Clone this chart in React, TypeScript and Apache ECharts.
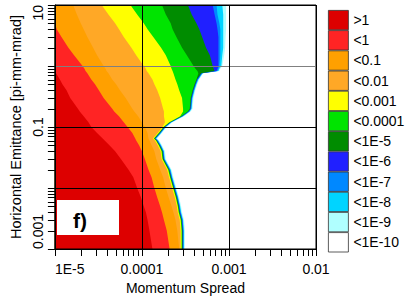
import React, { useEffect, useRef } from "react";
import * as echarts from "echarts";

// Emittance values (pi-mm-mrad) at which each contour edge is sampled
const emittanceGrid = [
  10, 7, 5, 4, 3, 2, 1.5,
  1, 0.9, 0.83, 0.76,
  0.6, 0.5, 0.4, 0.3, 0.2,
  0.18, 0.15, 0.12, 0.1,
  0.08, 0.065, 0.06, 0.05, 0.04,
  0.03, 0.02, 0.015, 0.01,
  0.007, 0.005, 0.004, 0.003, 0.002, 0.001,
];

// Momentum spread of the right-hand edge of each level, along emittanceGrid
const edgeGt1 = [
  1e-5, 1e-5, 1e-5, 1e-5, 1e-5, 1e-5, 1e-5,
  1e-5, 1e-5, 1e-5, 1.03e-5,
  1.14e-5, 1.22e-5, 1.36e-5, 1.5e-5, 1.84e-5,
  1.93e-5, 2.14e-5, 2.43e-5, 2.62e-5,
  3.05e-5, 3.54e-5, 3.73e-5, 4.23e-5, 4.92e-5,
  5.73e-5, 7.02e-5, 7.96e-5, 8.81e-5,
  9.75e-5, 1.05e-4, 1.11e-4, 1.16e-4, 1.22e-4, 1.32e-4,
];
const edgeLt1 = [
  1e-5, 1e-5, 1e-5, 1.05e-5, 1.19e-5, 1.43e-5, 1.66e-5,
  2.08e-5, 2.19e-5, 2.25e-5, 2.36e-5,
  2.62e-5, 2.89e-5, 3.2e-5, 3.63e-5, 4.56e-5,
  4.8e-5, 5.45e-5, 6.18e-5, 6.84e-5,
  7.76e-5, 8.38e-5, 8.59e-5, 9.27e-5, 1.0e-4,
  1.08e-4, 1.19e-4, 1.29e-4, 1.39e-4,
  1.5e-4, 1.62e-4, 1.7e-4, 1.79e-4, 1.93e-4, 2.08e-4,
];
const edgeLt01 = [
  1.62e-5, 1.79e-5, 1.98e-5, 2.14e-5, 2.36e-5, 2.75e-5, 3.05e-5,
  3.63e-5, 3.82e-5, 3.92e-5, 4.12e-5,
  4.56e-5, 5.05e-5, 5.59e-5, 6.5e-5, 7.76e-5,
  8.17e-5, 9.04e-5, 1.0e-4, 1.08e-4,
  1.16e-4, 1.19e-4, 1.22e-4, 1.29e-4, 1.39e-4,
  1.46e-4, 1.62e-4, 1.75e-4, 1.88e-4,
  2.03e-4, 2.19e-4, 2.3e-4, 2.43e-4, 2.55e-4, 2.68e-4,
];
const edgeLt001 = [
  3.45e-5, 4.12e-5, 4.92e-5, 5.45e-5, 6.18e-5, 7.57e-5, 8.59e-5,
  1.05e-4, 1.11e-4, 1.135e-4, 1.19e-4,
  1.32e-4, 1.39e-4, 1.5e-4, 1.62e-4, 1.75e-4,
  1.79e-4, 1.79e-4, 1.84e-4, 1.72e-4,
  1.52e-4, 1.34e-4, 1.41e-4, 1.52e-4, 1.64e-4,
  1.68e-4, 1.95e-4, 2.05e-4, 2.22e-4,
  2.39e-4, 2.52e-4, 2.58e-4, 2.72e-4, 2.78e-4, 2.78e-4,
];
const edgeLt1em3 = [
  7.38e-5, 8.81e-5, 1.05e-4, 1.16e-4, 1.35e-4, 1.66e-4, 1.88e-4,
  2.14e-4, 2.19e-4, 2.25e-4, 2.3e-4,
  2.43e-4, 2.55e-4, 2.68e-4, 2.89e-4, 2.97e-4,
  2.97e-4, 2.75e-4, 2.06e-4, 1.77e-4,
  1.56e-4, 1.37e-4, 1.45e-4, 1.56e-4, 1.68e-4,
  1.72e-4, 2.0e-4, 2.1e-4, 2.28e-4,
  2.45e-4, 2.58e-4, 2.64e-4, 2.79e-4, 2.85e-4, 2.85e-4,
];
const edgeLt1em4 = [
  1.7e-4, 1.88e-4, 2.14e-4, 2.25e-4, 2.49e-4, 2.89e-4, 3.28e-4,
  3.92e-4, 4.12e-4, 4.34e-4, 4.45e-4,
  4.23e-4, 4.02e-4, 3.82e-4, 3.63e-4, 3.54e-4,
  3.37e-4, 2.83e-4, 2.09e-4, 1.79e-4,
  1.58e-4, 1.39e-4, 1.46e-4, 1.58e-4, 1.71e-4,
  1.74e-4, 2.03e-4, 2.13e-4, 2.31e-4,
  2.48e-4, 2.61e-4, 2.68e-4, 2.83e-4, 2.89e-4, 2.89e-4,
];
const edgeLt1em5 = [
  3.37e-4, 3.73e-4, 4.23e-4, 4.56e-4, 4.92e-4, 5.45e-4, 6.03e-4,
  6.5e-4, 6.67e-4, 6.84e-4, 4.8e-4,
  4.28e-4, 4.08e-4, 3.87e-4, 3.68e-4, 3.59e-4,
  3.41e-4, 2.86e-4, 2.11e-4, 1.81e-4,
  1.6e-4, 1.41e-4, 1.48e-4, 1.6e-4, 1.73e-4,
  1.77e-4, 2.06e-4, 2.16e-4, 2.34e-4,
  2.52e-4, 2.65e-4, 2.71e-4, 2.86e-4, 2.93e-4, 2.93e-4,
];
const edgeLt1em6 = [
  6.5e-4, 6.84e-4, 7.2e-4, 7.38e-4, 7.57e-4, 7.57e-4, 7.57e-4,
  7.57e-4, 7.38e-4, 7.2e-4, 4.86e-4,
  4.34e-4, 4.13e-4, 3.92e-4, 3.73e-4, 3.63e-4,
  3.45e-4, 2.9e-4, 2.14e-4, 1.84e-4,
  1.62e-4, 1.43e-4, 1.5e-4, 1.62e-4, 1.75e-4,
  1.79e-4, 2.08e-4, 2.19e-4, 2.37e-4,
  2.55e-4, 2.68e-4, 2.75e-4, 2.9e-4, 2.97e-4, 2.97e-4,
];
const edgeLt1em7 = [
  7.2e-4, 7.38e-4, 7.76e-4, 7.96e-4, 7.96e-4, 7.96e-4, 7.96e-4,
  7.76e-4, 7.57e-4, 7.38e-4, 4.92e-4,
  4.39e-4, 4.18e-4, 3.97e-4, 3.77e-4, 3.68e-4,
  3.5e-4, 2.94e-4, 2.17e-4, 1.86e-4,
  1.64e-4, 1.44e-4, 1.52e-4, 1.64e-4, 1.77e-4,
  1.81e-4, 2.11e-4, 2.21e-4, 2.4e-4,
  2.58e-4, 2.72e-4, 2.78e-4, 2.94e-4, 3.0e-4, 3.0e-4,
];
const edgeLt1em8 = [
  8.38e-4, 8.59e-4, 8.59e-4, 8.59e-4, 8.59e-4, 8.59e-4, 8.38e-4,
  8.17e-4, 7.76e-4, 7.57e-4, 4.98e-4,
  4.45e-4, 4.23e-4, 4.02e-4, 3.82e-4, 3.72e-4,
  3.54e-4, 2.97e-4, 2.19e-4, 1.88e-4,
  1.66e-4, 1.46e-4, 1.54e-4, 1.66e-4, 1.79e-4,
  1.83e-4, 2.14e-4, 2.24e-4, 2.43e-4,
  2.61e-4, 2.75e-4, 2.82e-4, 2.97e-4, 3.04e-4, 3.04e-4,
];
const edgeLt1em9 = [
  9.27e-4, 9.27e-4, 9.27e-4, 9.27e-4, 9.15e-4, 9.04e-4, 8.81e-4,
  8.38e-4, 7.96e-4, 7.76e-4, 5.05e-4,
  4.56e-4, 4.34e-4, 4.12e-4, 3.92e-4, 3.82e-4,
  3.63e-4, 3.05e-4, 2.25e-4, 1.93e-4,
  1.7e-4, 1.5e-4, 1.58e-4, 1.7e-4, 1.84e-4,
  1.88e-4, 2.19e-4, 2.3e-4, 2.49e-4,
  2.68e-4, 2.82e-4, 2.89e-4, 3.05e-4, 3.12e-4, 3.12e-4,
];

const levelNames = [">1", "<1", "<0.1", "<0.01", "<0.001", "<0.0001", "<1E-5", "<1E-6", "<1E-7", "<1E-8", "<1E-9", "<1E-10"];
const levelColors = ["#DD0000", "#FF2424", "#FFA000", "#FFA826", "#FFFF00", "#00E400", "#008C00", "#2020FF", "#0088FF", "#00D4FF", "#B0FFFF", "#FFFFFF"];
const levelEdges: (number[] | null)[] = [edgeGt1, edgeLt1, edgeLt01, edgeLt001, edgeLt1em3, edgeLt1em4, edgeLt1em5, edgeLt1em6, edgeLt1em7, edgeLt1em8, edgeLt1em9, null];

const xTickLabels = ["1E-5", "0.0001", "0.001", "0.01"];
const yTickLabels = ["0.001", "", "0.1", "", "10"];
const xDecades = [1e-5, 1e-4, 1e-3];
const yDecades = [1e-3, 1e-2, 1e-1, 1];
const tickMultipliers = [1, 2, 3, 4, 5, 6, 7, 8, 9];
const panelLabel = "f)";

const FONT = "'Liberation Sans', Arial, sans-serif";

export default function App() {
  const ref = useRef<HTMLDivElement>(null);
  useEffect(() => {
    if (!ref.current) return;
    const chart = echarts.init(ref.current, null, { renderer: "svg" });
    const X_MIN = 1e-5, X_MAX = 1e-2, Y_MIN = 1e-3, Y_MAX = 10;
    const last = emittanceGrid.length - 1;

    const series: any[] = [];
    for (let k = levelNames.length - 1; k >= 0; k--) {
      const edge = levelEdges[k];
      series.push({
        type: "custom",
        name: levelNames[k],
        z: 1,
        clip: true,
        itemStyle: { color: levelColors[k] },
        data: edge ? [[edge[0], emittanceGrid[0]]] : [],
        renderItem: (params: any, api: any) => {
          if (!edge) return null;
          const pts = [[X_MIN, emittanceGrid[0]], ...edge.map((m, i) => [m, emittanceGrid[i]]), [X_MIN, emittanceGrid[last]]].map((p) => api.coord(p));
          return { type: "polygon", shape: { points: pts }, style: { fill: levelColors[k], stroke: null } };
        },
      });
    }

    const xTicks: number[][] = [];
    xDecades.forEach((d) => tickMultipliers.forEach((m) => xTicks.push([d * m, Y_MIN])));
    xTicks.push([X_MAX, Y_MIN]);
    const yTicks: number[][] = [];
    yDecades.forEach((d) => tickMultipliers.forEach((m) => yTicks.push([X_MIN, d * m])));
    yTicks.push([X_MIN, Y_MAX]);

    series.push({
      type: "custom",
      z: 5,
      clip: false,
      silent: true,
      data: xTicks,
      renderItem: (params: any, api: any) => {
        const p = api.coord([api.value(0), api.value(1)]);
        return { type: "line", shape: { x1: Math.round(p[0]) + 0.5, y1: p[1], x2: Math.round(p[0]) + 0.5, y2: p[1] + 7 }, style: { stroke: "#000", lineWidth: 1 } };
      },
    });
    series.push({
      type: "custom",
      z: 5,
      clip: false,
      silent: true,
      data: yTicks,
      renderItem: (params: any, api: any) => {
        const p = api.coord([api.value(0), api.value(1)]);
        return { type: "line", shape: { x1: p[0] - 7, y1: Math.round(p[1]) + 0.5, x2: p[0], y2: Math.round(p[1]) + 0.5 }, style: { stroke: "#000", lineWidth: 1 } };
      },
    });

    chart.setOption({
      animation: false,
      backgroundColor: "#fff",
      textStyle: { fontFamily: FONT },
      grid: { left: 43, top: 5, width: 273, height: 244, show: true, borderColor: "#000", borderWidth: 1, z: 4 },
      legend: {
        orient: "vertical",
        left: 323,
        top: 5,
        itemWidth: 20,
        itemHeight: 19.4,
        itemGap: 0,
        icon: "rect",
        selectedMode: false,
        data: levelNames,
        itemStyle: { borderColor: "#333", borderWidth: 0.8 },
        textStyle: { fontSize: 14, color: "#000", fontFamily: FONT },
      },
      xAxis: {
        type: "log",
        logBase: 10,
        min: X_MIN,
        max: X_MAX,
        z: 4,
        name: "Momentum Spread",
        nameLocation: "middle",
        nameGap: 30,
        nameTextStyle: { fontSize: 14, color: "#000", fontFamily: FONT },
        axisLine: { show: true, lineStyle: { color: "#000", width: 1 } },
        axisTick: { show: false },
        axisLabel: {
          margin: 13,
          fontSize: 14,
          color: "#000",
          fontFamily: FONT,
          alignMinLabel: "left",
          alignMaxLabel: "right",
          formatter: (v: number) => xTickLabels[Math.round(Math.log10(v)) + 5] ?? "",
        },
        splitLine: { show: true, lineStyle: { color: "#000", width: 1 } },
      },
      yAxis: {
        type: "log",
        logBase: 10,
        min: Y_MIN,
        max: Y_MAX,
        z: 4,
        name: "Horizontal Emittance [pi-mm-mrad]",
        nameLocation: "middle",
        nameGap: 22,
        nameTextStyle: { fontSize: 14.5, color: "#000", fontFamily: FONT },
        axisLine: { show: true, lineStyle: { color: "#000", width: 1 } },
        axisTick: { show: false },
        axisLabel: {
          rotate: 90,
          margin: 10,
          fontSize: 14,
          color: "#000",
          fontFamily: FONT,
          alignMinLabel: "left",
          alignMaxLabel: "right",
          formatter: (v: number) => yTickLabels[Math.round(Math.log10(v)) + 3] ?? "",
        },
        splitLine: { show: true, lineStyle: { color: ["#000", "#000", "#000", "#808080", "#000"], width: 1 } },
      },
      graphic: [
        { type: "rect", left: 57, top: 200, shape: { width: 62, height: 35 }, style: { fill: "#fff" }, z: 10 },
        { type: "text", x: 80, y: 220, style: { text: panelLabel, fontSize: 21, fontWeight: "bold", fontFamily: FONT, fill: "#000", align: "center", verticalAlign: "middle" }, z: 11 },
      ],
      series,
    });
    return () => chart.dispose();
  }, []);
  return <div ref={ref} style={{ position: "absolute", left: 0, top: 0, width: 407, height: 302 }} />;
}
